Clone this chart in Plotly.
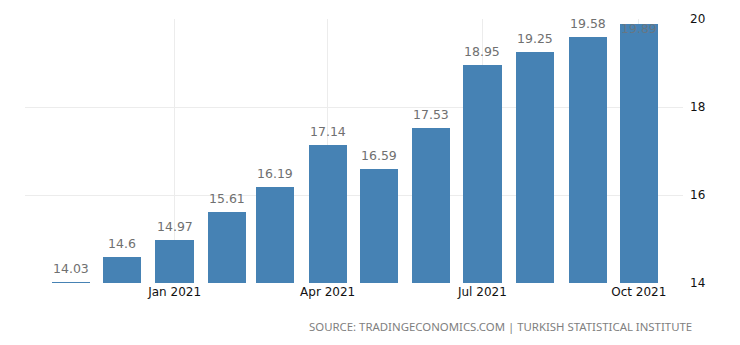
import plotly.graph_objects as go

# Monthly values, Nov 2020 - Oct 2021
months = ["2020-11-01", "2020-12-01", "2021-01-01", "2021-02-01", "2021-03-01",
          "2021-04-01", "2021-05-01", "2021-06-01", "2021-07-01", "2021-08-01",
          "2021-09-01", "2021-10-01"]
values = [14.03, 14.6, 14.97, 15.61, 16.19, 17.14, 16.59, 17.53, 18.95, 19.25,
          19.58, 19.89]

tick_dates = ["2021-01-01", "2021-04-01", "2021-07-01", "2021-10-01"]
tick_text = ["Jan 2021", "Apr 2021", "Jul 2021", "Oct 2021"]
y_ticks = [14, 16, 18, 20]

BAR = "#4682b4"
DAY_MS = 86400000

fig = go.Figure(go.Bar(
    x=months, y=values, base=0,
    marker=dict(color=BAR, line=dict(width=0)),
    width=[22.5 * DAY_MS] * len(values),
    hoverinfo="skip",
))

annotations = []
for i, (m, v) in enumerate(zip(months, values)):
    last = i == len(values) - 1
    annotations.append(dict(
        x=m, y=v, xref="x", yref="y", text=f"{v:g}", showarrow=False,
        yanchor="top" if last else "bottom",
        yshift=5 if last else 4,
        font=dict(family="DejaVu Sans", size=12.5,
                  color="rgba(115,115,115,0.75)" if last else "#707070"),
    ))

annotations.append(dict(
    text="SOURCE: TRADINGECONOMICS.COM | TURKISH STATISTICAL INSTITUTE",
    showarrow=False, xref="x domain", yref="y domain", x=1.016, y=-0.165,
    xanchor="right", yanchor="middle",
    font=dict(family="Noto Sans", size=11.4, color="#808080"),
))

fig.update_layout(
    width=740, height=345,
    margin=dict(l=25, r=57, t=19, b=62),
    paper_bgcolor="white", plot_bgcolor="white",
    showlegend=False,
    bargap=0,
    annotations=annotations,
    xaxis=dict(
        type="date",
        range=["2020-10-05", "2021-10-27"],
        tickvals=tick_dates, ticktext=tick_text,
        showgrid=True, gridcolor="#ececec", gridwidth=1,
        zeroline=False, showline=False, ticks="",
        tickfont=dict(family="DejaVu Sans", size=12, color="#111111"),
        fixedrange=True,
    ),
    yaxis=dict(
        side="right", range=[14, 20], tickvals=y_ticks,
        showgrid=True, gridcolor="#ececec", gridwidth=1,
        zeroline=False, showline=False, ticks="",
        ticklabelstandoff=6,
        tickfont=dict(family="DejaVu Sans", size=12, color="#111111"),
        fixedrange=True,
    ),
)

fig.write_html("out.html")
